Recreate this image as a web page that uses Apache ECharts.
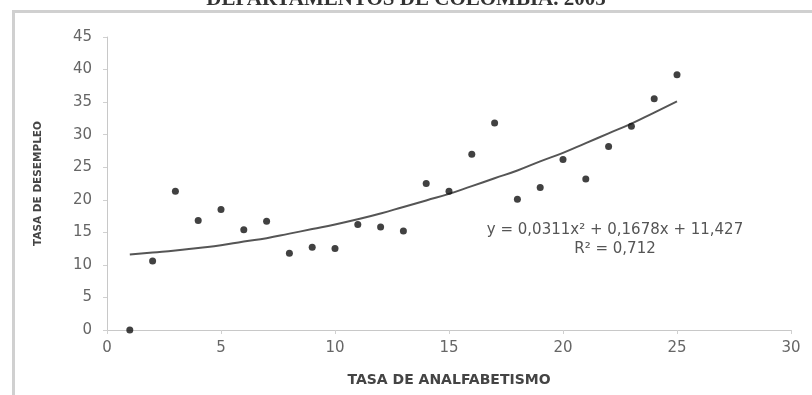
<!DOCTYPE html>
<html>
<head>
<meta charset="utf-8">
<script src="https://cdn.jsdelivr.net/npm/echarts@6/dist/echarts.min.js"></script>
<style>html,body{margin:0;padding:0;background:#fff}#c{width:812px;height:395px}</style>
</head>
<body>
<div id="c"></div>
<script>
const analfabetismo = [1,2,3,4,5,6,7,8,9,10,11,12,13,14,15,16,17,18,19,20,21,22,23,24,25];
const desempleo = [0,10.6,21.3,16.8,18.5,15.4,16.7,11.8,12.7,12.5,16.2,15.8,15.2,22.5,21.3,27.0,31.8,20.1,21.9,26.2,23.2,28.2,31.3,35.5,39.2];
const tendencia = [11.6,11.9,12.2,12.6,13.0,13.6,14.1,14.8,15.5,16.2,17.0,17.9,18.9,19.9,20.9,22.1,23.3,24.5,25.9,27.2,28.7,30.2,31.7,33.4,35.1];
const titulo = "DEPARTAMENTOS DE COLOMBIA. 2005";
const ecuacion = "y = 0,0311x² + 0,1678x + 11,427";
const r2 = "R² = 0,712";

const chart = echarts.init(document.getElementById('c'));
chart.setOption({
  animation: false,
  backgroundColor: '#fff',
  grid: {left: 107, right: 21, top: 37, bottom: 65},
  xAxis: {
    type: 'value', min: 0, max: 30, interval: 5,
    name: 'TASA DE ANALFABETISMO', nameLocation: 'middle', nameGap: 43,
    nameTextStyle: {fontFamily: 'DejaVu Sans', fontWeight: 'bold', fontSize: 14, color: '#444'},
    axisLine: {lineStyle: {color: '#c8c8c8', width: 1}},
    axisTick: {show: true, inside: false, length: 4, lineStyle: {color: '#d0d0d0'}},
    axisLabel: {fontFamily: 'DejaVu Sans', fontSize: 15, color: '#666', margin: 11},
    splitLine: {show: false}
  },
  yAxis: {
    type: 'value', min: 0, max: 45, interval: 5,
    name: 'TASA DE DESEMPLEO', nameLocation: 'middle', nameGap: 63, nameRotate: 90,
    nameTextStyle: {fontFamily: 'DejaVu Sans', fontWeight: 'bold', fontSize: 10.5, color: '#444'},
    axisLine: {show: true, lineStyle: {color: '#c8c8c8', width: 1}},
    axisTick: {show: true, length: 4, lineStyle: {color: '#d0d0d0'}},
    axisLabel: {fontFamily: 'DejaVu Sans', fontSize: 15, color: '#666', margin: 15},
    splitLine: {show: false}
  },
  series: [
    {
      type: 'line', data: analfabetismo.map((x, i) => [x, tendencia[i]]),
      smooth: true, showSymbol: false, symbol: 'none',
      lineStyle: {color: '#555', width: 2}, z: 1
    },
    {
      type: 'scatter', data: analfabetismo.map((x, i) => [x, desempleo[i]]),
      symbol: 'circle', symbolSize: 7,
      itemStyle: {color: '#111'}, z: 2
    }
  ],
  graphic: [
    {type: 'rect', shape: {x: 12, y: 10, width: 3, height: 395}, style: {fill: '#d0d0d0'}, silent: true},
    {type: 'rect', shape: {x: 12, y: 10, width: 800, height: 3}, style: {fill: '#d0d0d0'}, silent: true},
    {type: 'text', left: 'center', top: -11, style: {text: titulo, font: 'bold 21px "Liberation Serif"', fill: '#333'}},
    {type: 'text', x: 615, y: 230, style: {text: ecuacion, font: '15px "DejaVu Sans"', fill: '#555', align: 'center', verticalAlign: 'middle'}},
    {type: 'text', x: 615, y: 249, style: {text: r2, font: '15px "DejaVu Sans"', fill: '#555', align: 'center', verticalAlign: 'middle'}}
  ]
});
</script>
</body>
</html>
